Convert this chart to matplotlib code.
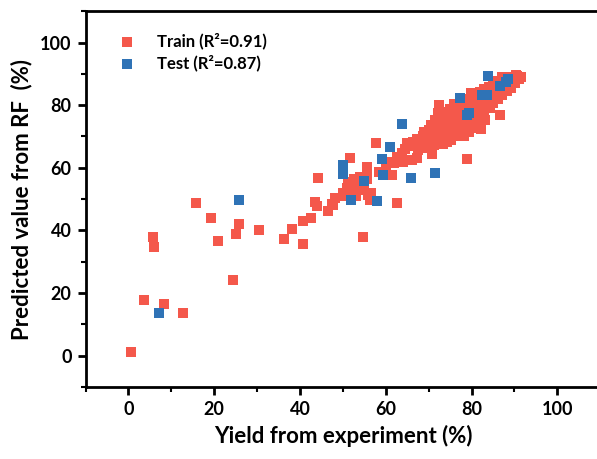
import matplotlib
matplotlib.use('Agg')
import matplotlib.pyplot as plt
from matplotlib.ticker import MultipleLocator

plt.rcParams['font.family'] = ['Lato', 'DejaVu Sans']
plt.rcParams['font.weight'] = 'bold'

# Training set (experiment yield, RF prediction)
train_x = [0.6, 3.5, 8.3, 12.8, 5.6, 6.0, 15.7, 19.2, 20.8, 24.3, 25.0, 25.8,
           30.5, 36.3, 38.2, 40.6, 40.8, 42.5, 43.5, 43.9, 44.1, 46.6, 47.4, 47.8,
           48.2, 50.1, 51.3, 51.7, 52.0, 53.2, 53.6, 54.8, 52.5, 54.0, 54.6, 55.7,
           55.7, 55.9, 56.3, 57.8, 58.3, 61.4, 61.8, 62.5, 63.7, 65.3, 67.2, 70.7,
           72.4, 78.9, 86.6,
           52.8, 55.0, 56.5, 53.0, 51.0, 55.5, 50.5,
           60.0, 61.0, 62.5, 64.0, 66.0, 64.5, 66.5, 65.0,
           65.8, 66.3, 67.4, 66.9, 67.2, 68.3, 67.8, 68.6, 69.1, 69.4, 68.8,
           70.2, 69.7, 70.5, 70.1, 70.6, 71.3, 70.9, 71.6, 71.2, 71.4,
           72.1, 72.6, 71.9, 72.4, 72.8, 72.2, 73.3, 73.0, 73.6, 72.9, 73.4, 73.1,
           74.2, 73.8, 74.5, 74.1, 74.7, 73.9, 75.3, 74.8, 75.6, 75.1, 75.4, 74.9,
           76.2, 75.8, 76.5, 76.1, 76.7, 75.9, 77.3, 76.8, 77.5, 77.1, 76.9,
           78.2, 77.7, 78.4, 78.1, 78.6, 77.9, 79.3, 78.8, 79.5, 79.0, 79.2,
           80.3, 79.8, 80.5, 80.1, 80.6, 79.9, 81.2, 80.8, 81.5, 81.1, 81.3,
           82.1, 81.7, 82.5, 82.2, 82.6, 81.9, 83.2, 82.8, 83.4, 83.1, 82.9,
           84.2, 83.7, 84.4, 84.0, 85.1, 84.7, 85.3, 85.0, 86.2, 85.8, 86.4, 86.0,
           87.2, 86.8, 87.4, 87.1, 88.2, 87.8, 88.4, 89.1, 88.8, 89.4, 90.1, 89.7,
           90.4, 91.0, 90.7, 91.5]
train_y = [1.2, 17.8, 16.6, 13.5, 37.9, 34.8, 48.8, 44.0, 36.5, 24.1, 38.9, 42.2,
           40.0, 37.2, 40.5, 35.5, 42.9, 44.0, 49.2, 47.7, 56.8, 46.2, 48.5, 48.0,
           50.2, 52.0, 55.5, 63.0, 54.0, 55.2, 53.0, 53.5, 56.5, 57.0, 37.8, 60.4,
           58.3, 51.3, 49.8, 67.8, 58.8, 57.7, 61.5, 48.8, 64.7, 62.5, 63.1, 64.3,
           80.0, 62.9, 76.9,
           52.5, 55.0, 52.0, 51.0, 53.5, 56.5, 51.0,
           60.5, 62.0, 63.5, 62.0, 62.5, 66.0, 67.0, 68.0,
           66.8, 68.2, 65.6, 67.3, 69.1, 66.2, 68.4, 70.3, 67.1, 69.2, 71.4,
           66.4, 68.3, 70.1, 72.2, 73.8, 67.3, 69.0, 71.2, 73.1, 75.2,
           68.2, 69.8, 72.3, 74.1, 75.9, 77.6, 67.6, 69.6, 71.3, 73.7, 75.4, 77.1,
           68.1, 70.2, 72.2, 73.8, 76.1, 77.8, 68.8, 70.8, 73.2, 74.9, 77.2, 78.9,
           70.3, 71.8, 74.1, 76.2, 77.9, 80.3, 71.2, 73.6, 75.8, 78.2, 79.9,
           70.2, 72.7, 74.8, 77.6, 79.3, 82.1, 71.4, 74.2, 76.6, 78.8, 81.1,
           72.6, 74.8, 77.2, 79.4, 82.1, 83.8, 73.6, 76.2, 78.3, 80.6, 82.4,
           72.3, 74.4, 77.1, 79.6, 81.4, 84.1, 75.2, 77.8, 80.2, 82.4, 85.1,
           79.2, 81.4, 83.6, 85.8, 80.6, 83.1, 84.9, 87.2, 82.1, 84.2, 86.1, 87.8,
           83.2, 85.4, 87.6, 88.9, 84.6, 86.4, 88.3, 85.6, 87.4, 88.9, 87.2, 88.8,
           89.6, 88.4, 89.4, 89.1]

# Test set
test_x = [7.1, 25.8, 50.1, 50.1, 52.0, 54.9, 57.9, 59.0, 59.3, 61.0, 63.7, 65.8,
          71.5, 77.3, 78.9, 79.5, 82.4, 83.5, 83.8, 86.6, 88.0, 88.6]
test_y = [13.6, 49.8, 61.0, 58.1, 49.8, 55.8, 49.5, 62.8, 57.7, 66.7, 74.1, 56.7,
          58.3, 82.2, 76.9, 77.6, 83.3, 83.4, 89.3, 86.1, 87.5, 88.3]

red = '#F4584B'
blue = '#2F73B6'

fig = plt.figure(figsize=(5.97, 4.59), dpi=100)
ax = fig.add_axes([0.1434, 0.157, 0.862, 0.8185])

ax.scatter(train_x, train_y, marker='s', s=48, color=red, linewidths=0,
           label='Train (R²=0.91)', zorder=2)
ax.scatter(test_x, test_y, marker='s', s=48, color=blue, linewidths=0,
           label='Test (R²=0.87)', zorder=3)

ax.set_xlim(-10, 110)
ax.set_ylim(-10, 110)
ax.set_xticks([0, 20, 40, 60, 80, 100])
ax.set_yticks([0, 20, 40, 60, 80, 100])
ax.xaxis.set_minor_locator(MultipleLocator(10))
ax.yaxis.set_minor_locator(MultipleLocator(10))
ax.tick_params(which='major', direction='out', length=6, width=2,
               labelsize=13, pad=4)
ax.tick_params(which='minor', direction='out', length=3.5, width=1.5)
for lab in ax.get_xticklabels() + ax.get_yticklabels():
    lab.set_fontweight('bold')
for sp in ax.spines.values():
    sp.set_linewidth(2)

ax.set_xlabel('Yield from experiment (%)', fontsize=16, fontweight='bold', labelpad=5)
ax.set_ylabel('Predicted value from RF  (%)', fontsize=16, fontweight='bold', labelpad=6)

ax.legend(loc='upper left', bbox_to_anchor=(0.025, 0.975), frameon=False,
          prop={'size': 12, 'weight': 'bold'}, handletextpad=0.8,
          labelspacing=0.35, borderpad=0.2, scatterpoints=1)

fig.savefig('out.png', dpi=100)
